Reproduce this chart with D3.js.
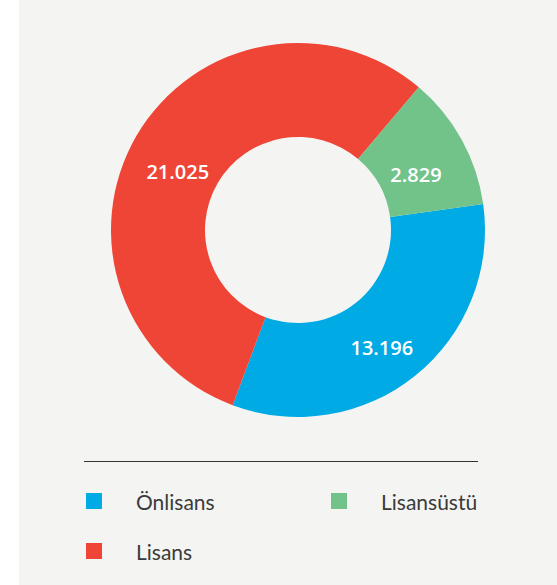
<!DOCTYPE html>
<html>
<head>
<meta charset="utf-8">
<script src="https://cdn.jsdelivr.net/npm/d3@7"></script>
<style>
  html, body { margin: 0; padding: 0; background: #ffffff; }
  svg { display: block; }
</style>
</head>
<body>
<svg id="chart" width="557" height="585"></svg>
<script>
// ---- data ----
const categories = ["Önlisans", "Lisans", "Lisansüstü"];
const labels = ["13.196", "21.025", "2.829"];
// slice shares (percent) as drawn in the picture
const shares = [32.9, 55.5, 11.6];
const colors = ["#00aae4", "#ef4537", "#71c38a"];

const W = 557, H = 585;
const svg = d3.select("#chart");

// panel background
svg.append("rect").attr("x", 19).attr("y", 0).attr("width", W - 19).attr("height", H)
  .attr("fill", "#f4f4f2");

const cx = 298, cy = 230, R = 187, r = 93;
const data = categories.map((c, i) => ({ name: c, label: labels[i], value: shares[i], color: colors[i] }));

const start = 82 * Math.PI / 180;
const pie = d3.pie().sort(null).value(d => d.value).startAngle(start).endAngle(start + 2 * Math.PI);
const arc = d3.arc().innerRadius(r).outerRadius(R);
const labelArc = d3.arc().innerRadius(137).outerRadius(137);

const g = svg.append("g").attr("transform", `translate(${cx},${cy})`);
const arcs = pie(data);
g.selectAll("path").data(arcs).enter().append("path")
  .attr("d", arc).attr("fill", d => d.data.color);

g.selectAll("text").data(arcs).enter().append("text")
  .attr("transform", d => { const [x, y] = labelArc.centroid(d); return `translate(${x - 2},${y + 11})`; })
  .attr("text-anchor", "middle").attr("dominant-baseline", "central")
  .attr("fill", "#ffffff").attr("font-family", "'Open Sans', sans-serif")
  .attr("font-size", 20).attr("font-weight", 600)
  .text(d => d.data.label);

// separator line
svg.append("line").attr("x1", 84).attr("x2", 478).attr("y1", 461.5).attr("y2", 461.5)
  .attr("stroke", "#333").attr("stroke-width", 1);

// legend
const legendOrder = [0, 2, 1];
const legend = svg.append("g");
legendOrder.forEach((idx, k) => {
  const col = k % 2, row = Math.floor(k / 2);
  const x = 86 + col * 245, y = 493 + row * 50;
  legend.append("rect").attr("x", x).attr("y", y).attr("width", 16).attr("height", 16)
    .attr("fill", colors[idx]);
  legend.append("text").attr("x", x + 50).attr("y", y + 8)
    .attr("dominant-baseline", "central")
    .attr("fill", "#3a3a3a").attr("font-family", "Lato, sans-serif")
    .attr("font-size", 21)
    .text(categories[idx]);
});
</script>
</body>
</html>
